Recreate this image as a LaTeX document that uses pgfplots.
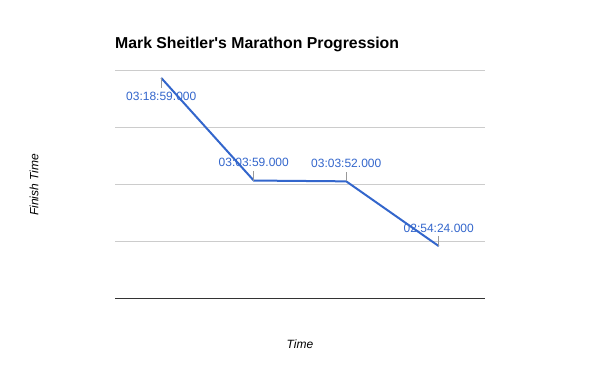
\documentclass[border=0pt]{standalone}
\usepackage{pgfplots}
\pgfplotsset{compat=1.18}
\usepackage{fontspec}
\setmainfont{Liberation Sans}[Ligatures=TeXOff]
\definecolor{gblue}{HTML}{3366CC}
\definecolor{ggrid}{HTML}{CCCCCC}
\definecolor{gbase}{HTML}{333333}
\definecolor{gtick}{HTML}{999999}
\begin{document}
\begin{tikzpicture}
\path[fill=white,use as bounding box] (0,0) rectangle (600pt,371pt);
\begin{axis}[
  at={(115pt,72pt)}, anchor=south west,
  scale only axis, width=370pt, height=228pt,
  xmin=-0.5, xmax=3.5, ymin=10000, ymax=12000,
  axis line style={draw=none},
  xtick=\empty,
  ytick={10500,11000,11500,12000},
  yticklabels={},
  scaled y ticks=false,
  major tick length=0pt,
  ymajorgrids,
  grid style={color=ggrid, line width=1pt},
  extra y ticks={10000},
  extra y tick labels={},
  extra y tick style={grid style={color=gbase, line width=1pt}},
  title={\fontsize{15.8}{19}\selectfont\bfseries Mark Sheitler's Marathon Progression},
  every axis title/.style={at={(rel axis cs:0,1)}, anchor=west, inner sep=0pt, yshift=27pt},
  xlabel={\fontsize{12}{14}\selectfont\itshape Time},
  every axis x label/.style={at={(rel axis cs:0.5,-0.1974)}, anchor=center},
  ylabel={\fontsize{12}{14}\selectfont\itshape Finish Time},
  every axis y label/.style={at={(rel axis cs:-0.2189,0.5)}, anchor=center, rotate=90},
  clip=false,
]
% finish times in seconds
\addplot[color=gblue, line width=2pt, mark=none,
  error bars/.cd, y dir=both, y explicit, error mark=none,
  error bar style={color=gtick, line width=1pt}]
  coordinates {
    (0,11939) += (0,0) -= (0,85)
    (1,11039) += (0,85) -= (0,0)
    (2,11032) += (0,85) -= (0,0)
    (3,10464) += (0,85) -= (0,0)
  };
\addplot[only marks, mark=none, nodes near coords, point meta=explicit symbolic,
  nodes near coords style={anchor=center, yshift=-18pt, text=gblue, font=\fontsize{12}{14}\selectfont}]
  coordinates {(0,11939) [03:18:59.000]};
\addplot[only marks, mark=none, nodes near coords, point meta=explicit symbolic,
  nodes near coords style={anchor=center, yshift=18pt, text=gblue, font=\fontsize{12}{14}\selectfont}]
  coordinates {(1,11039) [03:03:59.000] (2,11032) [03:03:52.000] (3,10464) [02:54:24.000]};
\end{axis}
\end{tikzpicture}
\end{document}
